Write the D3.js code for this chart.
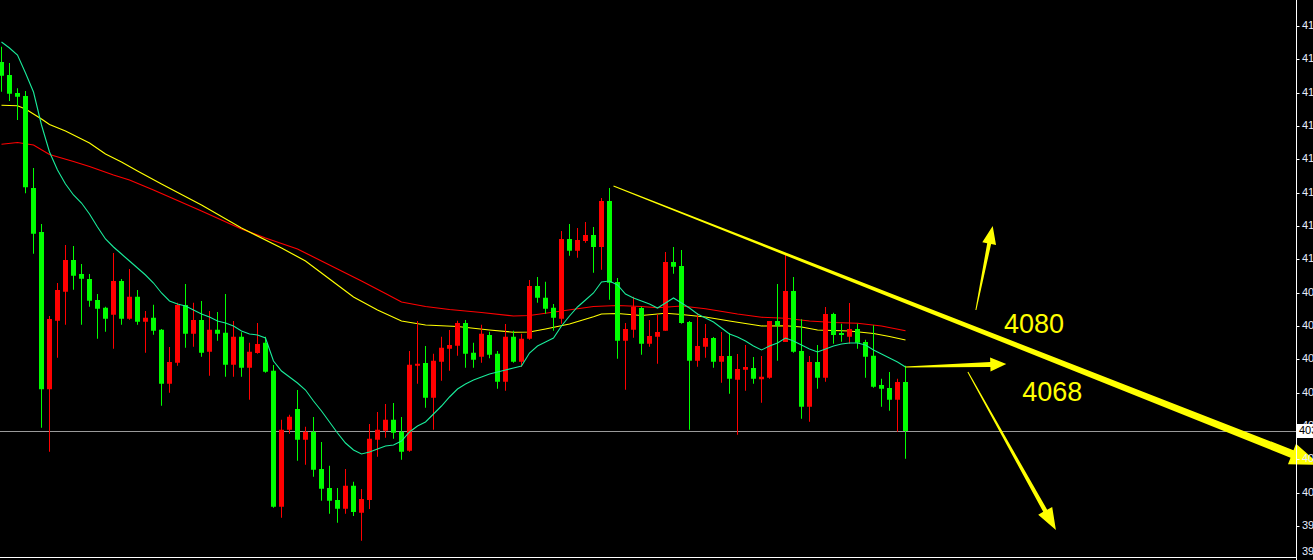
<!DOCTYPE html>
<html><head><meta charset="utf-8">
<script src="https://cdn.jsdelivr.net/npm/d3@7/dist/d3.min.js"></script>
<style>html,body{margin:0;padding:0;background:#000;overflow:hidden}svg{display:block}</style>
</head><body>
<script>
// ---- candle data (price) ----
const open = [4180.6,4175.4,4168.2,4167.0,4130.2,4112.6,4049.7,4077.1,4088.7,4101.4,
4095.8,4093.8,4085.4,4082.3,4079.5,4093.0,4077.9,4086.7,4076.7,4078.3,
4073.5,4051.9,4060.3,4083.4,4071.9,4077.4,4064.7,4073.5,4072.3,4059.5,
4070.7,4058.3,4064.2,4068.3,4057.1,4002.7,4033.5,4041.8,4029.5,4032.7,
4017.8,4010.2,4005.4,4001.9,4011.1,4000.3,4005.4,4029.5,4033.1,4037.5,
4032.7,4025.1,4059.1,4060.2,4046.3,4060.7,4065.9,4067.1,4076.2,4064.3,
4062.7,4071.4,4063.9,4052.7,4070.7,4060.7,4069.9,4091.0,4086.3,4082.3,
4077.9,4109.8,4105.1,4109.0,4111.4,4106.6,4125.0,4092.6,4069.1,4073.5,
4082.2,4067.9,4070.7,4073.1,4100.6,4099.0,4076.6,4061.1,4066.7,4070.2,
4060.7,4063.0,4053.5,4057.5,4058.2,4053.7,4054.3,4077.0,4068.6,4089.0,
4065.0,4042.7,4060.6,4054.3,4079.8,4072.2,4070.7,4073.8,4068.6,4063.1,
4051.4,4050.2,4045.5,4052.6];
const high = [4186.7,4180.2,4170.1,4169.0,4138.2,4115.8,4079.0,4092.2,4107.4,4107.0,
4099.8,4095.8,4087.8,4082.7,4104.2,4093.8,4097.8,4089.4,4081.0,4083.5,
4073.8,4066.6,4084.3,4091.8,4084.3,4085.0,4081.0,4080.6,4087.8,4077.0,
4072.5,4068.3,4076.2,4070.7,4059.4,4037.5,4039.5,4049.4,4034.7,4038.6,
4028.6,4019.1,4010.2,4017.8,4012.7,4009.8,4035.8,4040.6,4043.8,4044.2,
4038.6,4065.0,4077.0,4067.0,4063.9,4070.7,4073.4,4077.1,4077.4,4068.3,
4075.5,4072.7,4065.0,4075.8,4073.1,4071.9,4093.4,4094.6,4092.7,4083.8,
4113.0,4115.8,4114.2,4116.6,4114.6,4126.2,4130.2,4094.2,4076.2,4086.7,
4082.7,4077.4,4079.8,4104.6,4106.6,4105.4,4077.0,4080.2,4075.8,4070.6,
4072.6,4072.2,4063.8,4067.4,4062.6,4063.0,4077.0,4091.8,4103.4,4094.6,
4077.7,4063.0,4067.4,4082.6,4080.3,4075.9,4084.2,4075.9,4069.5,4075.3,
4053.9,4056.6,4053.9,4059.1];
const low = [4168.7,4165.0,4157.4,4128.1,4103.9,4034.3,4024.7,4062.3,4075.5,4089.5,
4075.5,4082.7,4069.9,4072.7,4065.9,4075.5,4077.5,4075.5,4064.3,4071.5,
4043.1,4048.3,4059.1,4066.3,4066.7,4062.7,4055.1,4069.1,4054.7,4054.7,
4054.7,4045.5,4063.9,4056.3,4002.3,3998.3,4031.9,4021.1,4019.5,4014.7,
4005.1,3999.9,3996.3,3999.9,3999.0,3989.1,4001.8,4022.7,4030.3,4029.9,
4021.5,4024.7,4051.9,4042.3,4033.5,4053.1,4057.1,4063.1,4058.3,4058.3,
4060.3,4062.1,4049.9,4049.1,4060.3,4058.7,4069.5,4084.3,4079.9,4073.1,
4075.9,4103.1,4102.3,4108.3,4096.3,4097.5,4085.5,4061.9,4049.5,4070.3,
4063.5,4066.7,4059.9,4073.1,4095.9,4075.9,4033.5,4058.7,4062.3,4058.3,
4052.3,4047.9,4031.5,4049.1,4051.9,4044.3,4053.9,4061.1,4068.6,4064.3,
4037.9,4036.7,4049.9,4052.7,4067.9,4068.7,4067.9,4065.9,4054.3,4050.3,
4042.7,4041.1,4032.7,4021.9];
const close = [4175.1,4167.9,4166.7,4130.5,4111.9,4049.7,4077.8,4089.4,4101.4,4095.1,
4093.9,4085.1,4081.9,4077.9,4093.0,4077.9,4086.7,4076.7,4078.3,4073.1,
4051.9,4060.6,4083.4,4071.9,4077.4,4064.3,4073.5,4071.9,4059.5,4070.7,
4058.3,4064.7,4067.8,4056.7,4002.7,4033.5,4038.7,4029.5,4032.7,4017.5,
4009.9,4005.1,4001.9,4011.1,4000.6,4005.8,4029.9,4033.5,4037.5,4032.3,
4024.7,4059.5,4059.9,4046.3,4061.1,4066.3,4067.4,4076.2,4063.9,4061.5,
4071.9,4063.5,4052.7,4070.7,4060.7,4069.9,4091.0,4086.3,4081.9,4078.3,
4109.8,4105.1,4109.4,4111.4,4106.6,4125.0,4092.3,4069.1,4073.8,4082.7,
4067.9,4071.0,4072.6,4100.6,4098.7,4076.2,4061.1,4067.0,4070.2,4060.7,
4063.0,4053.9,4057.8,4058.6,4053.9,4054.7,4077.0,4075.1,4089.0,4064.7,
4042.7,4060.6,4054.3,4079.8,4071.4,4071.4,4073.8,4068.3,4062.7,4050.7,
4049.9,4045.5,4052.6,4033.0];

// ---- moving averages, one value per bar for the fast one ----
const maFast = [4188.6,4186.2,4183.4,4176.2,4168.6,4155.4,4144.6,4137.4,4131.8,4127.4,
4124.2,4119.8,4114.6,4109.8,4106.6,4103.8,4101.0,4098.2,4095.4,4092.2,
4088.2,4085.0,4083.8,4083.0,4081.4,4079.8,4078.6,4077.0,4076.2,4075.0,
4073.0,4071.8,4071.4,4070.2,4061.0,4057.0,4054.6,4052.2,4049.4,4045.0,
4041.0,4036.6,4032.2,4028.2,4025.4,4023.8,4024.6,4025.8,4027.0,4027.4,
4029.0,4032.6,4035.0,4036.6,4039.8,4043.0,4046.6,4049.8,4051.8,4053.4,
4054.6,4055.8,4056.6,4057.4,4058.2,4059.0,4064.2,4067.0,4068.6,4070.2,
4075.0,4079.0,4082.6,4085.4,4088.2,4092.6,4093.0,4091.4,4087.8,4086.2,
4085.0,4083.8,4082.2,4084.2,4086.2,4084.2,4082.2,4079.8,4078.2,4076.6,
4074.2,4071.8,4070.6,4069.0,4067.0,4065.4,4067.0,4068.2,4070.2,4069.0,
4067.4,4065.8,4064.6,4065.8,4067.0,4067.8,4068.2,4068.2,4067.4,4065.4,
4063.8,4062.2,4060.6,4058.6];
// slower averages: [bar index, value]
const maYellow = [[0,4163.3],[2,4163.1],[3,4161.8],[5,4157.8],[6,4155.6],[8,4153.0],[11,4148.2],[13,4143.8],
[15,4140.6],[17,4137.0],[20,4131.8],[25,4123.4],[30,4114.2],[35,4106.2],[38,4101.0],[41,4093.8],[44,4086.6],
[47,4081.4],[50,4077.0],[53,4075.4],[57,4074.8],[61,4073.4],[64,4072.5],[66,4072.6],[68,4073.8],[71,4075.8],
[74,4078.7],[75,4079.8],[77,4080.0],[80,4079.2],[83,4080.1],[85,4079.6],[88,4078.6],[91,4077.0],[95,4075.0],
[98,4075.1],[100,4074.6],[102,4073.4],[106,4073.0],[109,4072.0],[111,4070.8],[113,4069.4]];
const maRed = [[0,4147.7],[2,4148.4],[4,4147.4],[6,4143.6],[9,4140.8],[11,4138.8],[14,4135.4],[16,4133.4],
[19,4129.4],[20,4128.0],[25,4121.0],[30,4113.8],[33,4110.2],[37,4105.8],[39,4102.6],[42,4097.8],[45,4093.0],
[48,4088.0],[50,4084.6],[53,4082.8],[56,4081.6],[60,4080.4],[64,4079.0],[66,4079.2],[70,4081.0],[74,4082.8],
[77,4083.2],[80,4082.8],[82,4082.3],[85,4083.0],[88,4081.9],[92,4079.8],[95,4078.5],[98,4078.1],[101,4077.0],
[104,4076.4],[107,4076.1],[110,4075.0],[113,4073.1]];

// ---- axis ----
const tickValues = d3.range(0, 16).map(i => 4195 - i * 40 / 3);
const bidPrice = 4033.0;
const minPrice = 3982.6, maxPrice = 4205.4;

// ---- annotations (bar index, price) ----
const trendLine = [[76.5, 4131.0], [164.8, 4019.4]];
const arrowUp = [[121.8, 4081.4], [123.9, 4115.0]];
const arrowRight = [[113.0, 4058.6], [125.6, 4059.8]];
const arrowDown = [[120.8, 4056.6], [131.8, 3993.4]];
const noteLabels = [{t: "4080", k: 125.3, p: 4072.2}, {t: "4068", k: 127.6, p: 4045.0}];

const W = 1313, H = 560, axisX = 1296.5, bottomY = 557;
const svg = d3.select("body").append("svg").attr("width", W).attr("height", H);
svg.append("rect").attr("width", W).attr("height", H).attr("fill", "#000");

const x = d3.scaleLinear().domain([0, 113]).range([1.5, 905.5]);
const y = d3.scaleLinear().domain([minPrice, maxPrice]).range([bottomY, 0]);

const plot = svg.append("g");
// bid line
plot.append("line").attr("x1", 0).attr("x2", axisX).attr("y1", Math.round(y(bidPrice)) + 0.5).attr("y2", Math.round(y(bidPrice)) + 0.5)
  .attr("stroke", "#9a9a9a").attr("stroke-width", 1);

// moving averages
const lineGen = d3.line().x(d => x(d[0])).y(d => y(d[1]));
plot.append("path").datum(maRed).attr("d", lineGen).attr("fill", "none").attr("stroke", "#ff0000").attr("stroke-width", 1.2);
plot.append("path").datum(maYellow).attr("d", lineGen).attr("fill", "none").attr("stroke", "#ffff00").attr("stroke-width", 1.2);

// candles
const bars = d3.range(open.length).map(i => ({i, o: open[i], h: high[i], l: low[i], c: close[i]}));
const col = d => d.c >= d.o ? "#ff0000" : "#00ff00";
const cg = plot.append("g");
cg.selectAll("line.w").data(bars).join("line").attr("class", "w")
  .attr("x1", d => Math.floor(x(d.i)) + 0.5).attr("x2", d => Math.floor(x(d.i)) + 0.5)
  .attr("y1", d => y(d.h)).attr("y2", d => y(d.l)).attr("stroke", col).attr("stroke-width", 1);
cg.selectAll("rect").data(bars).join("rect")
  .attr("x", d => Math.floor(x(d.i)) - 2).attr("width", 5)
  .attr("y", d => y(Math.max(d.o, d.c)))
  .attr("height", d => Math.max(1.5, Math.abs(y(d.o) - y(d.c))))
  .attr("fill", col);

plot.append("path").datum(maFast.map((v, i) => [i, v])).attr("d", lineGen).attr("fill", "none").attr("stroke", "#19eb9a").attr("stroke-width", 1.1);

// arrows
function arrowPoly(a, b, w0, w1, headLen, headHalf) {
  const p0 = [x(a[0]), y(a[1])], p1 = [x(b[0]), y(b[1])];
  const dx = p1[0] - p0[0], dy = p1[1] - p0[1], L = Math.hypot(dx, dy);
  const u = [dx / L, dy / L], n = [-u[1], u[0]];
  const bb = [p1[0] - u[0] * headLen, p1[1] - u[1] * headLen];
  const pt = (p, s) => [p[0] + n[0] * s, p[1] + n[1] * s];
  return [pt(p0, w0 / 2), pt(bb, w1 / 2), pt(bb, headHalf), p1, pt(bb, -headHalf), pt(bb, -w1 / 2), pt(p0, -w0 / 2)];
}
const ann = svg.append("g").attr("fill", "#ffff00");
[[trendLine, 1, 8, 30, 11], [arrowUp, 1, 4, 18, 7], [arrowRight, 1, 5, 16, 7], [arrowDown, 1, 4.5, 22, 8]].forEach(([seg, w0, w1, hl, hh]) => {
  ann.append("polygon").attr("points", arrowPoly(seg[0], seg[1], w0, w1, hl, hh).map(p => p.join(",")).join(" "));
});
ann.selectAll("text").data(noteLabels).join("text")
  .attr("x", d => x(d.k)).attr("y", d => y(d.p))
  .attr("font-family", "Liberation Sans, Arial, sans-serif").attr("font-size", 27)
  .attr("fill", "#ffff00").text(d => d.t);

// frame + axis
svg.append("line").attr("x1", axisX).attr("x2", axisX).attr("y1", 0).attr("y2", H).attr("stroke", "#fff");
svg.append("line").attr("x1", 0).attr("x2", axisX).attr("y1", bottomY + 0.5).attr("y2", bottomY + 0.5).attr("stroke", "#fff");
const ax = svg.append("g");
ax.selectAll("line").data(tickValues).join("line")
  .attr("x1", axisX).attr("x2", axisX + 3).attr("y1", d => Math.round(y(d)) + 0.5).attr("y2", d => Math.round(y(d)) + 0.5)
  .attr("stroke", "#fff");
ax.selectAll("text").data(tickValues.concat([minPrice])).join("text")
  .attr("x", 1302).attr("y", (d, i) => i < tickValues.length ? y(d) : bottomY - 5)
  .attr("dominant-baseline", "middle")
  .attr("font-family", "Liberation Sans, Arial, sans-serif").attr("font-size", 11)
  .attr("fill", "#e6ecff").text(d => d.toFixed(2));
// bid label box
const by = Math.round(y(bidPrice));
svg.append("rect").attr("x", axisX + 0.5).attr("y", by - 7).attr("width", W - axisX).attr("height", 14).attr("fill", "#fff");
svg.append("text").attr("x", 1299).attr("y", by).attr("dominant-baseline", "middle")
  .attr("font-family", "Liberation Sans, Arial, sans-serif").attr("font-size", 11).attr("fill", "#000").text(bidPrice.toFixed(2));
</script>
</body></html>
